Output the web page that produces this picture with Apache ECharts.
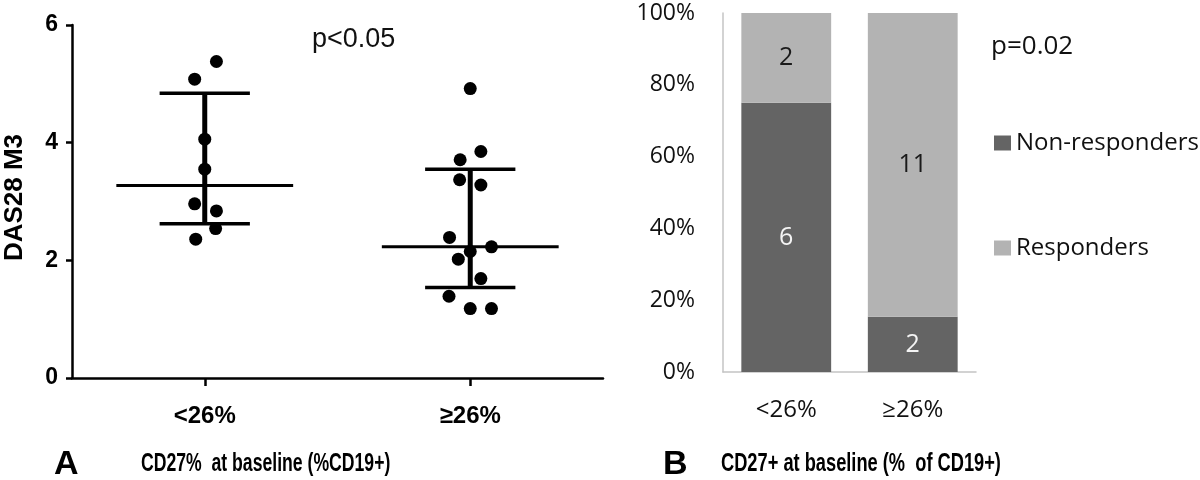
<!DOCTYPE html>
<html>
<head>
<meta charset="utf-8">
<script src="https://cdn.jsdelivr.net/npm/echarts@6/dist/echarts.min.js"></script>
<style>
html,body{margin:0;padding:0;background:#fff;}
#c{width:1200px;height:480px;}
</style>
</head>
<body>
<div id="c"></div>
<script>
// ---- Panel A data ----
const groupLabels = ['<26%', '≥26%'];
const groupLowValues = [5.38, 5.08, 4.06, 3.55, 2.96, 2.84, 2.54, 2.36];
const groupLowJitter = [0.044, -0.038, 0, 0, -0.038, 0.044, 0.041, -0.034];
const groupHighValues = [4.92, 3.85, 3.71, 3.37, 3.28, 2.39, 2.23, 2.15, 2.02, 1.69, 1.39, 1.18, 1.18];
const groupHighJitter = [0, 0.04, -0.038, -0.04, 0.04, -0.078, 0.08, 0, -0.045, 0.04, -0.08, 0, 0.08];
const medians = [3.27, 2.23];
const lowerQ = [2.62, 1.54];
const upperQ = [4.84, 3.55];

// ---- Panel B data ----
const barCategories = ['<26%', '≥26%'];
const nonResponders = [6, 2];
const responders = [2, 11];

const fontA = "'Liberation Sans', Arial, sans-serif";
const fontB = "'Open Sans', 'Noto Sans', sans-serif";

const scatterData = [];
groupLowValues.forEach((v, i) => scatterData.push([1 + groupLowJitter[i], v]));
groupHighValues.forEach((v, i) => scatterData.push([2 + groupHighJitter[i], v]));

const summaryData = medians.map((m, i) => [i + 1, m, lowerQ[i], upperQ[i]]);

const totals = nonResponders.map((n, i) => n + responders[i]);
const nonPct = nonResponders.map((n, i) => ({ value: n / totals[i] * 100, count: n }));
const resPct = responders.map((n, i) => ({ value: n / totals[i] * 100, count: n }));

const chart = echarts.init(document.getElementById('c'));
chart.setOption({
  animation: false,
  backgroundColor: '#fff',
  grid: [
    { left: 72, right: 597, top: 25, bottom: 102 },
    { left: 723, right: 224, top: 13, bottom: 108 }
  ],
  xAxis: [
    {
      gridIndex: 0, type: 'value', min: 0.5, max: 2.5,
      axisLine: { show: true, lineStyle: { color: '#000', width: 2.5 } },
      axisTick: { show: true, customValues: [1, 2], length: 8, lineStyle: { color: '#000', width: 2.5 } },
      axisLabel: { customValues: [1, 2], formatter: v => groupLabels[Math.round(v) - 1], margin: 26,
        fontFamily: fontA, fontWeight: 'bold', fontSize: 24, color: '#000' },
      splitLine: { show: false }
    },
    {
      gridIndex: 1, type: 'category', data: barCategories,
      axisLine: { show: true, lineStyle: { color: '#c4c4c4', width: 1.5 } },
      axisTick: { show: false },
      axisLabel: { margin: 26, fontFamily: fontB, fontSize: 24, color: '#111' }
    }
  ],
  yAxis: [
    {
      gridIndex: 0, type: 'value', min: 0, max: 6, interval: 2,
      name: 'DAS28 M3', nameLocation: 'middle', nameGap: 44,
      nameTextStyle: { fontFamily: fontA, fontWeight: 'bold', fontSize: 26, color: '#000', padding: [0, 0, 0, 8] },
      axisLine: { show: true, lineStyle: { color: '#000', width: 2.5 } },
      axisTick: { show: true, length: 6, lineStyle: { color: '#000', width: 2.5 } },
      axisLabel: { margin: 14, fontFamily: fontA, fontWeight: 'bold', fontSize: 23, color: '#000' },
      splitLine: { show: false }
    },
    {
      gridIndex: 1, type: 'value', min: 0, max: 100, interval: 20,
      axisLine: { show: true, lineStyle: { color: '#c4c4c4', width: 1.5 } },
      axisTick: { show: false },
      axisLabel: { margin: 28, formatter: '{value}%', fontFamily: fontB, fontSize: 23, color: '#111' },
      splitLine: { show: false }
    }
  ],
  legend: [
    { data: ['Non-responders'], left: 989, top: 126, orient: 'vertical', icon: 'rect',
      itemWidth: 17, itemHeight: 15, textStyle: { fontFamily: fontB, fontSize: 24, color: '#111' } },
    { data: ['Responders'], left: 989, top: 231, orient: 'vertical', icon: 'rect',
      itemWidth: 17, itemHeight: 15, textStyle: { fontFamily: fontB, fontSize: 24, color: '#111' } }
  ],
  series: [
    {
      type: 'custom', xAxisIndex: 0, yAxisIndex: 0, data: summaryData, z: 3,
      renderItem: function (params, api) {
        const g = api.value(0);
        const m = api.coord([g, api.value(1)]);
        const lo = api.coord([g, api.value(2)]);
        const hi = api.coord([g, api.value(3)]);
        const mL = api.coord([g - 0.333, api.value(1)]);
        const mR = api.coord([g + 0.333, api.value(1)]);
        const cL = api.coord([g - 0.17, 0]);
        const cR = api.coord([g + 0.17, 0]);
        const st = { stroke: '#000', lineWidth: 3.5 };
        return {
          type: 'group',
          children: [
            { type: 'line', shape: { x1: m[0], y1: hi[1], x2: m[0], y2: lo[1] }, style: { stroke: '#000', lineWidth: 5 } },
            { type: 'line', shape: { x1: mL[0], y1: m[1], x2: mR[0], y2: m[1] }, style: { stroke: '#000', lineWidth: 3 } },
            { type: 'line', shape: { x1: cL[0], y1: hi[1], x2: cR[0], y2: hi[1] }, style: st },
            { type: 'line', shape: { x1: cL[0], y1: lo[1], x2: cR[0], y2: lo[1] }, style: st }
          ]
        };
      }
    },
    {
      type: 'scatter', xAxisIndex: 0, yAxisIndex: 0, data: scatterData, z: 4,
      symbol: 'circle', symbolSize: 13, itemStyle: { color: '#000', opacity: 1 }
    },
    {
      name: 'Non-responders', type: 'bar', xAxisIndex: 1, yAxisIndex: 1, stack: 'r',
      data: nonPct, barWidth: '71%', itemStyle: { color: '#646464' },
      label: { show: true, position: 'inside', formatter: p => p.data.count,
        fontFamily: fontB, fontSize: 25, color: '#f4f4f4' }
    },
    {
      name: 'Responders', type: 'bar', xAxisIndex: 1, yAxisIndex: 1, stack: 'r',
      data: resPct, barWidth: '71%', itemStyle: { color: '#b3b3b3' },
      label: { show: true, position: 'inside', formatter: p => p.data.count,
        fontFamily: fontB, fontSize: 25, color: '#1a1a1a' }
    }
  ],
  graphic: [
    { type: 'text', left: 312, top: 26, style: { text: 'p<0.05', fontFamily: fontA, fontSize: 27, fill: '#111' } },
    { type: 'text', left: 991, top: 34, style: { text: 'p=0.02', fontFamily: fontB, fontSize: 26, fill: '#111' } },
    { type: 'text', left: 54, top: 448, style: { text: 'A', fontFamily: fontA, fontWeight: 'bold', fontSize: 34, fill: '#000' } },
    { type: 'text', x: 141, y: 452, scaleX: 0.705, style: { text: 'CD27%  at baseline (%CD19+)', fontFamily: fontA, fontWeight: 'bold', fontSize: 25, fill: '#000' } },
    { type: 'text', left: 663, top: 448, style: { text: 'B', fontFamily: fontA, fontWeight: 'bold', fontSize: 34, fill: '#000' } },
    { type: 'text', x: 721, y: 452, scaleX: 0.73, style: { text: 'CD27+ at baseline (%  of CD19+)', fontFamily: fontA, fontWeight: 'bold', fontSize: 25, fill: '#000' } }
  ]
});
</script>
</body>
</html>
